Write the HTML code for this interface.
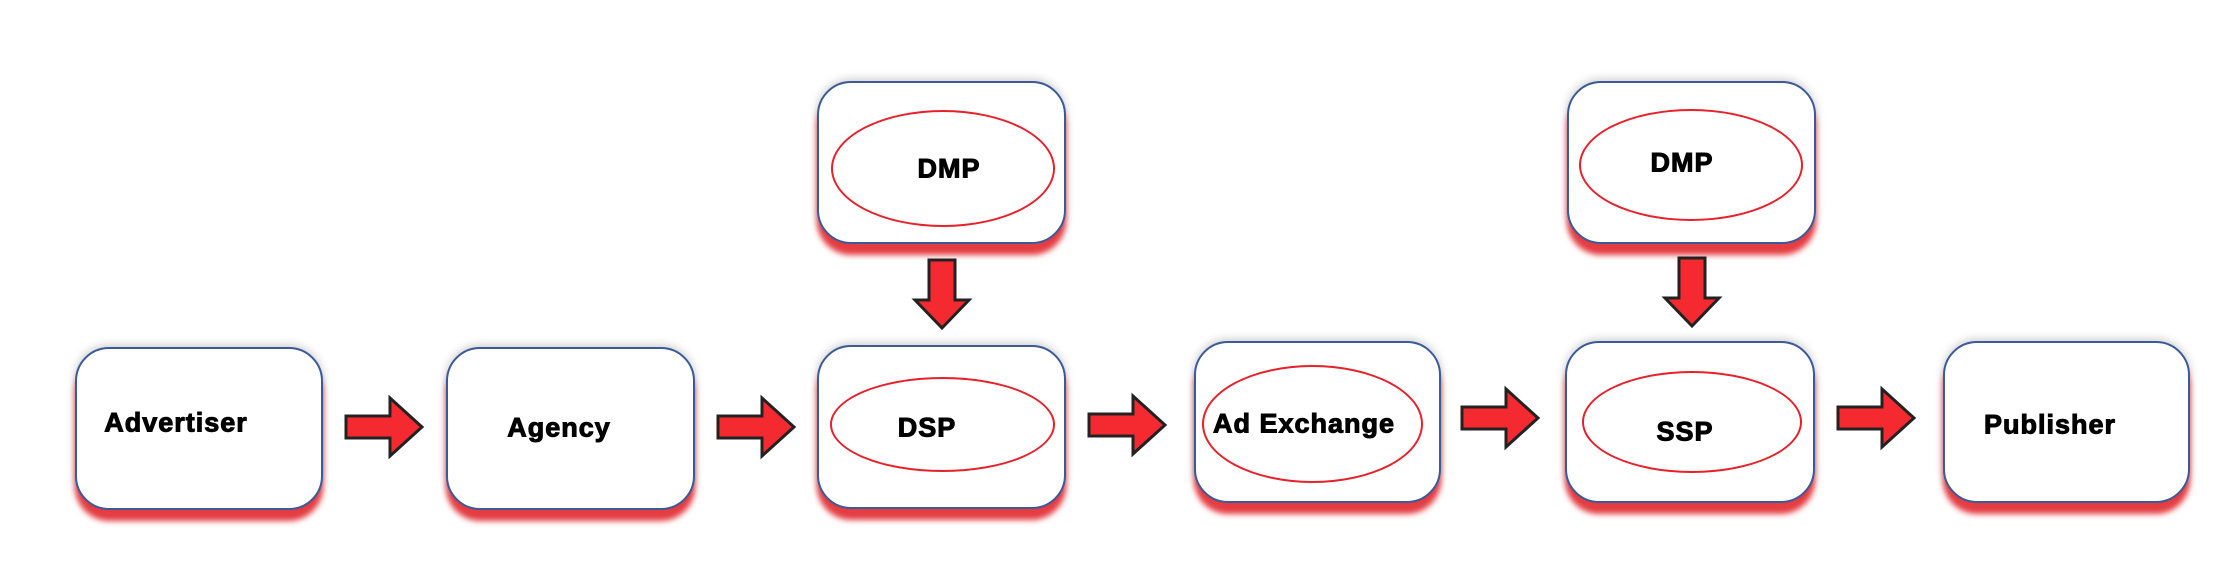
<!DOCTYPE html>
<html><head><meta charset="utf-8"><style>
body{margin:0;width:2220px;height:588px;background:#fff;position:relative;overflow:hidden;font-family:"Liberation Sans",sans-serif}
.b{position:absolute;background:#fff;border:2px solid #3a5a9a;border-radius:34px;box-sizing:border-box;box-shadow:0 11px 6px rgba(225,40,45,.9),0 -2px 9px rgba(0,0,0,.2)}
.e{position:absolute;border:2px solid #e8202a;border-radius:50%;box-sizing:border-box}
.t{position:absolute;font-weight:900;font-size:27px;color:#000;transform:translate(-50%,-50%);white-space:nowrap;letter-spacing:1px;-webkit-text-stroke:1px #000}
svg{position:absolute;left:0;top:0}
</style></head><body>
<div class="b" style="left:75px;top:347px;width:248px;height:163px"></div>
<div class="b" style="left:446px;top:347px;width:249px;height:163px"></div>
<div class="b" style="left:817px;top:345px;width:249px;height:164px"></div>
<div class="b" style="left:1194px;top:341px;width:247px;height:162px"></div>
<div class="b" style="left:1565px;top:341px;width:250px;height:162px"></div>
<div class="b" style="left:1943px;top:341px;width:247px;height:162px"></div>
<div class="b" style="left:817px;top:81px;width:249px;height:163px"></div>
<div class="b" style="left:1567px;top:81px;width:249px;height:163px"></div>
<div class="e" style="left:830px;top:377px;width:225px;height:95px"></div>
<div class="e" style="left:831px;top:110px;width:224px;height:117px"></div>
<div class="e" style="left:1202px;top:365px;width:221px;height:118px"></div>
<div class="e" style="left:1582px;top:371px;width:220px;height:102px"></div>
<div class="e" style="left:1579px;top:109px;width:224px;height:112px"></div>
<div class="t" style="left:176px;top:423px">Advertiser</div>
<div class="t" style="left:559px;top:428px">Agency</div>
<div class="t" style="left:927px;top:428px">DSP</div>
<div class="t" style="left:1304px;top:424px">Ad Exchange</div>
<div class="t" style="left:1685px;top:432px">SSP</div>
<div class="t" style="left:2050px;top:425px">Publisher</div>
<div class="t" style="left:949px;top:169px">DMP</div>
<div class="t" style="left:1682px;top:163px">DMP</div>
<svg width="2220" height="588">
<defs>
<path id="ra" d="M0,-11 H44 V-29 L76,0 L44,29 V11 H0 Z" fill="#f52a30" stroke="#222" stroke-width="3"/>
<path id="da" d="M-13,0 H13 V40 H27 L0,68 L-27,40 H-13 Z" fill="#f52a30" stroke="#222" stroke-width="3"/>
</defs>
<use href="#ra" x="346" y="427"/>
<use href="#ra" x="718" y="427"/>
<use href="#ra" x="1089" y="425"/>
<use href="#ra" x="1462" y="418"/>
<use href="#ra" x="1838" y="418"/>
<use href="#da" x="942" y="260"/>
<use href="#da" x="1692" y="258"/>
</svg>
</body></html>
